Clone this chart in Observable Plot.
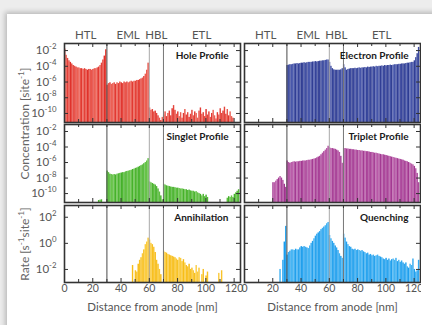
<!DOCTYPE html>
<html><head><meta charset="utf-8">
<script src="https://cdn.jsdelivr.net/npm/d3@7"></script>
<script src="https://cdn.jsdelivr.net/npm/@observablehq/plot@0.6"></script>
<style>
html,body{margin:0;padding:0;background:#ededed;font-family:Lato,"Noto Sans",sans-serif;}
#chart{position:absolute;left:0;top:0;width:432px;height:325px;overflow:hidden;}
#card{position:absolute;left:7px;top:14px;width:440px;height:330px;background:#fff;box-shadow:-2px -2px 5px rgba(0,0,0,0.22);}
#clip{position:absolute;left:0;top:0;width:421px;height:325px;overflow:hidden;}
#clip svg{position:absolute;}
</style></head><body>
<div id="chart"><div id="card"></div><div id="clip"></div></div>
<script>
// ---- data (log10 of value per 1 nm bin, bins 0..123; null = below axis) ----
const layers = ["HTL", "EML", "HBL", "ETL"];
const layerCenters = [15, 45, 65, 97];
const boundaries = [30, 60, 70];
const xTickLabels = [0, 20, 40, 60, 80, 100, 120];
const xMinorTicks = [10, 30, 50, 70, 90, 110];
const concTickExps = [-2, -4, -6, -8, -10];
const rateTickExps = [2, 0, -2];
const titles = ["Hole Profile", "Electron Profile", "Singlet Profile", "Triplet Profile", "Annihilation", "Quenching"];
const yTitles = ["Concentration [site^{-1}]", "Rate [s^{-1}site^{-1}]"];
const xTitle = "Distance from anode [nm]";

const hole = [
-1.8,-2.6,-3.0,-3.3,-3.5,-3.7,-3.9,-4.0,-4.1,-4.2,-4.2,-4.3,-4.3,-4.4,-4.3,-4.4,-4.5,-4.4,-4.4,-4.5,
-4.4,-4.3,-4.3,-4.2,-4.1,-3.9,-3.6,-3.2,-2.7,-1.9,
-6.4,-6.2,-6.1,-6.3,-6.2,-6.1,-6.3,-6.1,-6.2,-6.0,-6.1,-6.2,-6.0,-6.1,-6.0,-6.1,-6.0,-5.9,-6.0,-5.9,
-5.9,-5.8,-5.8,-5.7,-5.6,-5.5,-5.3,-5.0,-4.5,-3.6,
-9.3,-9.6,-9.5,-9.8,-9.7,-10.0,-10.3,-10.6,-10.9,-10.5,
-10.2,-9.8,-10.4,-10.0,-9.7,-10.3,-9.4,-9.0,-9.6,-10.1,-9.8,-10.4,-9.9,-10.6,-10.0,-9.5,-10.2,-9.9,-10.5,-10.1,
-9.6,-10.3,-9.8,-10.0,-10.6,-9.7,-9.3,-10.1,-9.9,-10.4,-9.5,-10.2,-9.8,-10.5,-10.0,-9.6,-10.3,-10.7,-9.9,-10.2,
-9.4,-10.0,-9.7,-9.2,-10.1,-9.5,-10.3,-9.8,-10.4,-10.6,null,null,null,null];

const electron = [
null,null,null,null,null,null,null,null,null,null,null,null,null,null,null,null,null,null,null,null,
null,null,null,null,null,null,null,null,null,null,
-3.9,-3.85,-3.8,-3.8,-3.75,-3.7,-3.7,-3.65,-3.7,-3.65,-3.6,-3.6,-3.55,-3.6,-3.55,-3.5,-3.5,-3.5,-3.45,-3.45,
-3.4,-3.45,-3.4,-3.35,-3.35,-3.3,-3.3,-3.25,-3.2,-3.2,
-3.5,-4.0,-4.3,-4.45,-4.5,-4.5,-4.5,-4.5,-4.45,-4.3,
-3.8,-4.2,-4.5,-4.4,-4.35,-4.3,-4.3,-4.3,-4.25,-4.3,-4.25,-4.2,-4.25,-4.2,-4.2,-4.15,-4.2,-4.1,-4.15,-4.1,
-4.1,-4.05,-4.1,-4.0,-4.05,-4.0,-4.0,-3.95,-4.0,-3.9,-3.95,-3.9,-3.9,-3.85,-3.9,-3.85,-3.8,-3.8,-3.8,-3.75,
-3.75,-3.7,-3.7,-3.7,-3.65,-3.6,-3.6,-3.55,-3.5,-3.5,-3.3,-2.9,-2.4,-1.6];

const singlet = [
null,null,null,null,null,null,null,null,null,null,null,null,null,null,null,null,null,null,null,null,
null,null,null,null,-10.9,-10.85,-10.8,null,null,null,
-7.1,-7.3,-7.5,-7.55,-7.6,-7.55,-7.6,-7.5,-7.45,-7.4,-7.35,-7.3,-7.3,-7.2,-7.15,-7.1,-7.05,-7.0,-6.9,-6.85,
-6.75,-6.7,-6.6,-6.5,-6.4,-6.3,-6.15,-6.0,-5.8,-5.5,
-8.5,-8.6,-8.7,-8.8,-8.9,-9.1,-9.4,-9.8,-10.3,-10.8,
-8.8,-8.9,-9.0,-9.05,-9.1,-9.15,-9.2,-9.2,-9.25,-9.3,-9.3,-9.35,-9.4,-9.4,-9.45,-9.5,-9.5,-9.6,-9.55,-9.65,
-9.7,-9.7,-9.8,-9.75,-9.9,-10.0,-10.1,-10.3,-10.1,-10.4,-10.2,-10.5,null,null,null,null,null,null,null,null,
null,null,null,null,null,-10.6,-10.4,-10.5,-10.3,-10.5,-10.1,-9.9,-9.7,-9.5];

const triplet = [
null,null,null,null,null,null,null,null,null,null,null,null,null,null,null,null,null,null,null,null,
-8.6,-8.6,-8.4,-8.2,-8.0,-7.8,-8.0,-8.3,-8.8,-9.2,
-5.8,-6.0,-6.1,-6.0,-5.95,-5.9,-5.95,-5.9,-5.9,-5.85,-5.85,-5.8,-5.8,-5.8,-5.75,-5.7,-5.7,-5.65,-5.6,-5.55,
-5.5,-5.4,-5.3,-5.2,-5.0,-4.8,-4.6,-4.4,-4.2,-3.9,
-4.1,-4.2,-4.2,-4.25,-4.3,-4.4,-4.5,-4.7,-5.2,-6.1,
-4.2,-4.2,-4.25,-4.25,-4.3,-4.3,-4.35,-4.35,-4.4,-4.4,-4.45,-4.45,-4.5,-4.5,-4.55,-4.55,-4.6,-4.6,-4.65,-4.7,
-4.7,-4.75,-4.8,-4.8,-4.85,-4.9,-4.95,-5.0,-5.0,-5.05,-5.1,-5.15,-5.2,-5.25,-5.3,-5.35,-5.4,-5.45,-5.5,-5.55,
-5.6,-5.65,-5.7,-5.8,-5.85,-5.9,-6.0,-6.1,-6.2,-6.3,-6.5,-6.8,-7.4,-8.6];

const annihilation = [
null,null,null,null,null,null,null,null,null,null,null,null,null,null,null,null,null,null,null,null,
null,null,null,null,null,null,null,null,null,null,
null,null,null,null,null,null,null,null,null,null,null,null,null,null,null,null,null,null,-1.7,null,
-2.1,-2.2,-1.6,-1.3,-1.1,-0.8,-0.5,-0.1,0.1,0.4,
0.25,0.0,-0.1,-0.3,-0.7,-1.3,-1.6,-2.0,-2.4,null,
-0.6,-0.7,-0.75,-0.85,-0.9,-0.95,-1.0,-1.05,-1.1,-1.2,-1.3,-1.1,-1.15,-1.4,-1.25,-1.5,-1.7,-1.8,-1.6,-2.0,
-1.9,-2.1,-2.3,-1.7,-2.2,-1.9,null,-2.4,-2.0,null,-2.5,-2.2,null,null,null,null,null,null,null,-2.3,
null,-2.1,null,null,null,null,null,null,null,null,null,null,null,null];

const quenching = [
null,null,null,null,null,null,null,null,null,null,null,null,null,null,null,null,null,null,null,null,
null,null,null,null,null,-2.0,null,-1.3,0.1,1.3,
-0.9,-0.7,-0.6,-0.5,-0.5,-0.55,-0.45,-0.5,-0.5,-0.35,-0.25,-0.3,-0.25,-0.3,-0.35,-0.4,-0.2,0.0,0.15,0.35,
0.55,0.7,0.8,0.9,1.05,1.15,1.25,1.35,1.5,1.6,
0.6,0.35,0.15,0.0,-0.2,-0.35,-0.55,-0.8,-1.0,-1.15,
0.7,0.4,0.1,-0.1,-0.25,-0.3,-0.45,-0.5,-0.45,-0.55,-0.5,-0.55,-0.6,-0.55,-0.65,-0.7,-0.8,-0.75,-0.9,-0.85,
-0.95,-0.9,-1.0,-0.95,-0.9,-1.0,-1.05,-1.1,-1.2,-1.25,-1.15,-1.3,-1.2,-1.35,-1.25,-1.2,-1.3,-1.15,-1.4,-1.3,
-1.45,-1.35,-1.5,-1.6,-1.5,-1.8,-1.9,-1.6,-1.7,-1.2,-2.0,-2.2,-2.1,-1.3];

// ---- layout ----
const FW = 176;
const colX = [64, 244];
const rows = [{top: 43, h: 79}, {top: 124, h: 78}, {top: 205, h: 77}];
const concDomain = [Math.pow(10, -11.15), Math.pow(10, -1.1)];
const rateDomain = [Math.pow(10, -3), Math.pow(10, 2.9)];
const mL = 50, mR = 6, mT = 24, mB = 34;
const shadeSeq = [0.1, 0.45, 0.2, 0.6, 0.0, 0.35, 0.15, 0.5, 0.05, 0.3, 0.55, 0.25];
const FONT = "Lato, 'Noto Sans', sans-serif";

const panels = [
  {vals: hole, color: "#e0312b", light: "#f4806f", col: 0, row: 0},
  {vals: electron, color: "#2c3990", light: "#5b6bbd", col: 1, row: 0},
  {vals: singlet, color: "#3fae25", light: "#84d262", col: 0, row: 1},
  {vals: triplet, color: "#a0348f", light: "#cc78ba", col: 1, row: 1},
  {vals: annihilation, color: "#f6ba10", light: "#ffd964", col: 0, row: 2},
  {vals: quenching, color: "#1b9cec", light: "#64c5f8", col: 1, row: 2}
];

const holder = document.getElementById("clip");
const ns = "http://www.w3.org/2000/svg";

function superscripts(t) {
  const s = t.textContent;
  if (!s.includes("^{")) return;
  const parts = s.split(/\^\{([^}]*)\}/);
  t.textContent = "";
  let raised = false;
  parts.forEach((part, i) => {
    if (!part) return;
    const ts = document.createElementNS(ns, "tspan");
    ts.textContent = part;
    if (i % 2) {
      ts.setAttribute("font-size", "0.68em");
      if (!raised) ts.setAttribute("dy", "-0.66em");
      raised = true;
    } else if (raised) {
      ts.setAttribute("dy", "0.45em");
      raised = false;
    }
    t.appendChild(ts);
  });
}

panels.forEach((p, k) => {
  const r = rows[p.row];
  const isRate = p.row === 2;
  const domain = isRate ? rateDomain : concDomain;
  const tickVals = (isRate ? rateTickExps : concTickExps).map(e => Math.pow(10, e));
  const interp = d3.interpolateRgb(p.color, p.light);
  const bins = p.vals.map((v, i) => ({i, v})).filter(d => d.v !== null);
  const marks = [
    Plot.rect(bins, {
      x1: d => d.i, x2: d => d.i + 1,
      y1: domain[0], y2: d => Math.pow(10, d.v),
      fill: d => interp(shadeSeq[(d.i * 7) % shadeSeq.length]),
      clip: true
    }),
    Plot.ruleX([boundaries[0]], {stroke: "#4a4a4a", strokeWidth: 1}),
    Plot.ruleX([boundaries[1]], {stroke: "#a8a8a8", strokeWidth: 1}),
    Plot.ruleX([boundaries[2]], {stroke: "#777", strokeWidth: 1}),
    // inward ticks
    Plot.tickX(xTickLabels, {x: d => d, insetTop: r.h - 4, stroke: "#333"}),
    Plot.tickX(xTickLabels, {x: d => d, insetBottom: r.h - 4, stroke: "#333"}),
    Plot.tickX(xMinorTicks, {x: d => d, insetTop: r.h - 3, stroke: "#333"}),
    Plot.tickX(xMinorTicks, {x: d => d, insetBottom: r.h - 3, stroke: "#333"}),
    Plot.tickY(tickVals, {y: d => d, insetRight: FW - 4, stroke: "#333"}),
    Plot.tickY(tickVals, {y: d => d, insetLeft: FW - 4, stroke: "#333"}),
    Plot.frame({stroke: "#333", strokeWidth: 1.6}),
    Plot.text([titles[k]], {frameAnchor: "top-right", dx: -12, dy: 12, lineAnchor: "middle",
      text: d => d, fontWeight: "bold", fontSize: 10, fill: "#1a1a1a"})
  ];
  if (p.col === 0) {
    marks.push(Plot.text(tickVals, {y: d => d, frameAnchor: "left", textAnchor: "end", dx: -8,
      lineAnchor: "middle", fill: "#555", text: d => "10^{" + Math.round(Math.log10(d)) + "}"}));
    if (p.row === 0) {
      marks.push(Plot.text([yTitles[0]], {frameAnchor: "bottom-left", textAnchor: "middle",
        lineAnchor: "middle", rotate: -90, dx: -39, dy: 1, text: d => d, fill: "#666", fontSize: 12}));
    }
    if (p.row === 2) {
      marks.push(Plot.text([yTitles[1]], {frameAnchor: "left", textAnchor: "middle",
        lineAnchor: "middle", rotate: -90, dx: -39, dy: 0, text: d => d, fill: "#666", fontSize: 12}));
    }
  }
  if (p.row === 0) {
    marks.push(Plot.text(layers.map((name, i) => ({name, c: layerCenters[i]})), {
      x: "c", text: "name", frameAnchor: "top", lineAnchor: "bottom", dy: -5, fill: "#555", fontSize: 11.5}));
  }
  if (p.row === 2) {
    marks.push(Plot.text(xTickLabels, {x: d => d, text: d => String(d), frameAnchor: "bottom",
      lineAnchor: "top", dy: 2, fill: "#555", fontSize: 10.5}));
    marks.push(Plot.text([xTitle], {frameAnchor: "bottom", text: d => d,
      lineAnchor: "middle", dy: 25, fill: "#555", fontSize: 11.5}));
  }
  const svg = Plot.plot({
    width: FW + mL + mR,
    height: r.h + mT + mB,
    marginLeft: mL, marginRight: mR, marginTop: mT, marginBottom: mB,
    x: {domain: [0, 124.5], axis: null},
    y: {type: "log", domain, axis: null},
    color: {type: "identity"},
    style: {background: "transparent", overflow: "visible", fontFamily: FONT, fontSize: "11.5px"},
    marks
  });
  svg.style.left = (colX[p.col] - mL) + "px";
  svg.style.top = (r.top - mT) + "px";
  svg.querySelectorAll("text").forEach(superscripts);
  holder.appendChild(svg);
});
</script>
</body></html>
